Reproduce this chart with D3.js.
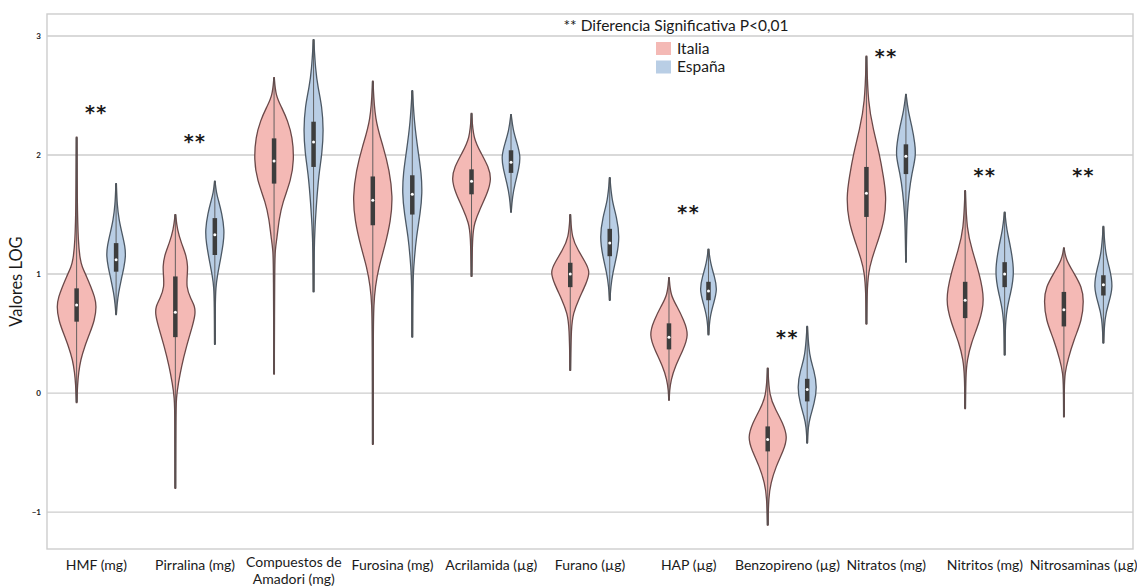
<!DOCTYPE html>
<html>
<head>
<meta charset="utf-8">
<script src="https://cdn.jsdelivr.net/npm/d3@7"></script>
<style>
	body { margin: 0; background: #fff; }
	text { font-family: Lato, "Open Sans", sans-serif; fill: #1a1a1a; }
</style>
</head>
<body>
<svg id="chart"></svg>
<script>
let w = 1137;
let h = 588;
let margin = {top: 14, right: 4, bottom: 39, left: 47};

// categories on the x axis, "\n" breaks the label
let categories = ["HMF (mg)", "Pirralina (mg)", "Compuestos de\nAmadori (mg)", "Furosina (mg)",
	"Acrilamida (µg)", "Furano (µg)", "HAP (µg)", "Benzopireno (µg)", "Nitratos (mg)",
	"Nitritos (mg)", "Nitrosaminas (µg)"];
let groups = ["Italia", "España"];
let yTicks = [-1, 0, 1, 2, 3];

// level of the "**" mark, null = not significant
let sigLevel = [2.40, 2.16, null, null, null, null, 1.56, 0.51, 2.87, 1.87, 1.87];

// [min, q1, median, q3, max] per category
let italiaStats = [
	[-0.08, 0.60, 0.74, 0.88, 2.15],
	[-0.80, 0.47, 0.68, 0.98, 1.50],
	[0.16, 1.76, 1.95, 2.14, 2.65],
	[-0.43, 1.41, 1.62, 1.82, 2.62],
	[0.98, 1.67, 1.78, 1.88, 2.35],
	[0.19, 0.89, 1.00, 1.095, 1.50],
	[-0.06, 0.367, 0.47, 0.586, 0.97],
	[-1.11, -0.49, -0.39, -0.28, 0.21],
	[0.58, 1.48, 1.68, 1.90, 2.83],
	[-0.13, 0.63, 0.78, 0.935, 1.70],
	[-0.20, 0.56, 0.70, 0.85, 1.22]
];
let espanaStats = [
	[0.66, 1.02, 1.12, 1.26, 1.76],
	[0.41, 1.16, 1.33, 1.47, 1.78],
	[0.85, 1.90, 2.11, 2.28, 2.97],
	[0.47, 1.50, 1.67, 1.83, 2.54],
	[1.52, 1.85, 1.94, 2.04, 2.34],
	[0.78, 1.15, 1.26, 1.38, 1.81],
	[0.49, 0.78, 0.857, 0.935, 1.21],
	[-0.42, -0.07, 0.03, 0.12, 0.56],
	[1.10, 1.84, 1.99, 2.09, 2.51],
	[0.32, 0.89, 1.00, 1.10, 1.52],
	[0.42, 0.82, 0.91, 0.99, 1.40]
];

// density: [value, relative width]
let italiaDensity = [
	[[2.15,.01],[1.6,.03],[1.26,.08],[1.12,.18],[1.06,.27],[0.98,.5],[0.89,.72],[0.81,.9],[0.73,1],[0.61,.9],[0.50,.65],[0.39,.4],[0.28,.2],[0.17,.1],[0.08,.05],[-0.08,.01]],
	[[1.50,.01],[1.37,.1],[1.26,.3],[1.15,.56],[1.06,.62],[1.0,.6],[0.89,.55],[0.80,.75],[0.73,.98],[0.66,1],[0.56,.85],[0.39,.55],[0.22,.3],[0.08,.15],[-0.03,.05],[-0.2,.02],[-0.80,.01]],
	[[2.65,.01],[2.50,.08],[2.40,.38],[2.29,.68],[2.15,.92],[1.96,1],[1.79,.85],[1.60,.42],[1.46,.25],[1.31,.15],[1.2,.05],[1.05,.03],[0.16,.01]],
	[[2.62,.01],[2.29,.1],[2.07,.53],[1.87,.83],[1.65,1],[1.45,.9],[1.23,.6],[1.06,.3],[0.89,.12],[0.75,.05],[0.5,.02],[-0.43,.01]],
	[[2.35,.01],[2.14,.08],[2.01,.5],[1.90,.85],[1.80,1],[1.68,.8],[1.54,.4],[1.43,.15],[1.34,.05],[0.98,.01]],
	[[1.50,.01],[1.30,.08],[1.20,.4],[1.10,.75],[1.02,1],[0.92,.8],[0.78,.4],[0.67,.15],[0.56,.05],[0.19,.01]],
	[[0.97,.01],[0.82,.08],[0.73,.4],[0.61,.75],[0.49,1],[0.36,.7],[0.22,.3],[0.11,.1],[0.02,.03],[-0.06,.01]],
	[[0.21,.01],[-0.03,.08],[-0.14,.4],[-0.25,.75],[-0.37,1],[-0.48,.8],[-0.62,.4],[-0.76,.15],[-0.87,.05],[-1.11,.01]],
	[[2.83,.01],[2.43,.08],[2.21,.35],[2.01,.65],[1.82,.85],[1.65,1],[1.45,.9],[1.29,.6],[1.12,.25],[1.01,.1],[0.85,.03],[0.58,.01]],
	[[1.70,.01],[1.37,.08],[1.20,.35],[1.01,.7],[0.78,1],[0.59,.7],[0.42,.3],[0.28,.1],[0.15,.03],[-0.13,.01]],
	[[1.22,.01],[1.12,.1],[1.01,.5],[0.89,.9],[0.78,1],[0.61,.9],[0.45,.5],[0.28,.2],[0.17,.05],[0.05,.02],[-0.20,.01]]
];
let espanaDensity = [
	[[1.76,.01],[1.58,.05],[1.45,.15],[1.34,.3],[1.23,.45],[1.15,.48],[1.06,.4],[0.95,.25],[0.84,.12],[0.75,.05],[0.66,.01]],
	[[1.78,.01],[1.68,.08],[1.62,.18],[1.51,.35],[1.37,.48],[1.26,.43],[1.12,.28],[0.98,.12],[0.89,.05],[0.75,.02],[0.41,.01]],
	[[2.97,.01],[2.71,.1],[2.57,.22],[2.41,.42],[2.21,.5],[2.02,.43],[1.82,.25],[1.60,.15],[1.40,.07],[1.2,.03],[0.85,.01]],
	[[2.54,.01],[2.27,.1],[2.02,.3],[1.85,.45],[1.68,.5],[1.51,.4],[1.31,.2],[1.12,.1],[1.01,.05],[0.8,.02],[0.47,.01]],
	[[2.34,.01],[2.21,.1],[2.10,.3],[1.99,.48],[1.89,.4],[1.76,.2],[1.65,.07],[1.52,.01]],
	[[1.81,.01],[1.62,.1],[1.48,.35],[1.31,.5],[1.15,.35],[1.01,.15],[0.89,.05],[0.78,.01]],
	[[1.21,.01],[1.09,.1],[0.98,.3],[0.87,.45],[0.75,.25],[0.64,.07],[0.49,.01]],
	[[0.56,.01],[0.31,.1],[0.19,.35],[0.05,.5],[-0.09,.35],[-0.20,.15],[-0.28,.05],[-0.42,.01]],
	[[2.51,.01],[2.38,.1],[2.24,.3],[2.10,.45],[1.99,.5],[1.85,.3],[1.68,.15],[1.51,.07],[1.40,.04],[1.10,.01]],
	[[1.52,.01],[1.37,.1],[1.23,.3],[1.01,.5],[0.84,.3],[0.70,.1],[0.55,.03],[0.32,.01]],
	[[1.40,.01],[1.17,.1],[1.06,.3],[0.89,.5],[0.75,.25],[0.64,.07],[0.42,.01]]
];

let fills = {"Italia": "#f4b9b5", "España": "#b9cee5"};
let edges = {"Italia": "#6a4848", "España": "#4c5864"};

let svg = d3.select("#chart").attr("width", w).attr("height", h);
svg.append("rect").attr("width", w).attr("height", h).attr("fill", "#fff");

let x = d3.scaleBand()
	.domain(categories)
	.range([margin.left, w - margin.right]);

let xSub = d3.scaleBand()
	.domain(groups)
	.range([0, x.bandwidth()])
	.paddingOuter(0.25);

let y = d3.scaleLinear()
	.domain([-1.31, 3.185])
	.range([h - margin.bottom, margin.top]);

let half = d3.scaleLinear().domain([0, 1]).range([0, 20]);

// grid
svg.append("g")
	.selectAll("line")
	.data(yTicks)
	.join("line")
		.attr("x1", margin.left)
		.attr("x2", w - margin.right)
		.attr("y1", d => y(d))
		.attr("y2", d => y(d))
		.attr("stroke", "#cdcdcd")
		.attr("stroke-width", 1.4);

// frame
svg.append("rect")
	.attr("x", margin.left)
	.attr("y", margin.top)
	.attr("width", w - margin.left - margin.right)
	.attr("height", h - margin.top - margin.bottom)
	.attr("fill", "none")
	.attr("stroke", "#cdcdcd")
	.attr("stroke-width", 1.4);

// y tick labels
let yAxis = svg.append("g")
	.attr("transform", `translate(${margin.left},0)`)
	.call(d3.axisLeft(y).tickValues(yTicks).tickSize(0).tickPadding(6).tickFormat(d3.format("d")));
yAxis.select(".domain").remove();
yAxis.selectAll("text")
	.style("font-family", "Lato, sans-serif")
	.style("font-size", "8px")
	.style("font-weight", "bold")
	.attr("fill", "#333");

svg.append("text")
	.attr("transform", `translate(22,${(margin.top + h - margin.bottom) / 2}) rotate(-90)`)
	.attr("text-anchor", "middle")
	.style("font-size", "16.5px")
	.text("Valores LOG");

// x labels
svg.append("g")
	.selectAll("text")
	.data(categories)
	.join("text")
		.attr("text-anchor", "middle")
		.attr("x", d => x(d) + x.bandwidth() / 2)
		.attr("y", d => d.includes("\n") ? h - 21 : h - 18)
		.style("font-size", "14px")
		.selectAll("tspan")
		.data(d => d.split("\n"))
		.join("tspan")
			.attr("x", function() { return this.parentNode.getAttribute("x"); })
			.attr("dy", (d, i) => i ? 17 : 0)
			.text(d => d);

// violins
let violinData = [];
categories.forEach((c, i) => {
	violinData.push({cat: c, group: "Italia", stats: italiaStats[i], dens: italiaDensity[i]});
	violinData.push({cat: c, group: "España", stats: espanaStats[i], dens: espanaDensity[i]});
});

let cx = d => x(d.cat) + xSub(d.group) + xSub.bandwidth() / 2;

let area = d3.area()
	.curve(d3.curveBasis)
	.y(p => y(p[0]))
	.x0(p => -half(p[1]))
	.x1(p => half(p[1]));

let violin = svg.append("g")
	.selectAll("g")
	.data(violinData)
	.join("g")
		.attr("transform", d => `translate(${cx(d)},0)`);

// heavy whisker, mostly hidden by the body
violin.append("line")
	.attr("y1", d => y(d.stats[0]))
	.attr("y2", d => y(d.stats[4]))
	.attr("stroke", "#2b2b2b")
	.attr("stroke-width", 1.9);

violin.append("path")
	.attr("d", d => area(d.dens))
	.attr("fill", d => fills[d.group])
	.attr("stroke", d => edges[d.group])
	.attr("stroke-width", 1.3);

violin.append("line")
	.attr("y1", d => y(d.stats[0]))
	.attr("y2", d => y(d.stats[4]))
	.attr("stroke", "#555")
	.attr("stroke-width", 0.9);

violin.append("line")
	.attr("y1", d => y(d.stats[1]))
	.attr("y2", d => y(d.stats[3]))
	.attr("stroke", "#3d3d3d")
	.attr("stroke-width", 4.5);

violin.append("circle")
	.attr("cy", d => y(d.stats[2]))
	.attr("r", 1.5)
	.attr("fill", "#fff");

// significance marks
svg.append("g")
	.selectAll("text")
	.data(categories.map((c, i) => ({cat: c, v: sigLevel[i]})).filter(d => d.v !== null))
	.join("text")
		.attr("x", d => x(d.cat) + x.bandwidth() / 2)
		.attr("y", d => y(d.v))
		.attr("text-anchor", "middle")
		.attr("dy", "0.62em")
		.style("font-family", "'DejaVu Sans', sans-serif")
		.style("font-weight", "bold")
		.style("font-size", "19px")
		.style("letter-spacing", "1.5px")
		.attr("fill", "#000")
		.text("**");

// note + legend
svg.append("text")
	.attr("x", 676)
	.attr("y", 31)
	.attr("text-anchor", "middle")
	.style("font-size", "15.5px")
	.text("** Diferencia Significativa P<0,01");

let legend = svg.append("g")
	.selectAll("g")
	.data(groups)
	.join("g")
		.attr("transform", (d, i) => `translate(656,${42 + i * 18.5})`);
legend.append("rect")
	.attr("width", 15)
	.attr("height", 13)
	.attr("fill", d => fills[d]);
legend.append("text")
	.attr("x", 21)
	.attr("y", 11.5)
	.style("font-size", "15.5px")
	.text(d => d);
</script>
</body>
</html>
